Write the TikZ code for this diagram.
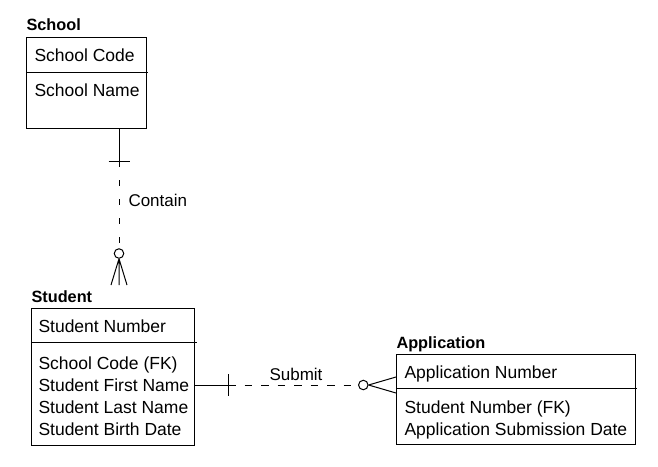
\documentclass[tikz,border=0pt]{standalone}
\usepackage{fontspec}
\setmainfont{Liberation Sans}
\begin{document}
\begin{tikzpicture}[x=1pt,y=-1pt,line width=1pt,
  entbox/.style={draw,rectangle,inner sep=0,anchor=north west},
  enttitle/.style={anchor=base west,inner sep=0,font=\fontsize{16.3}{18}\selectfont\bfseries},
  attr/.style={anchor=base west,inner sep=0,font=\fontsize{17.5}{22}\selectfont},
  rellabel/.style={anchor=base west,inner sep=0,font=\fontsize{17}{20}\selectfont},
  optional/.style={dash pattern=on 6pt off 13pt},
  zero/.style={draw,circle,inner sep=0,minimum size=9.5pt}]
  \useasboundingbox (0,0) rectangle (658,466);
  % School
  \node[enttitle] (schoolT) at (26,30) {School};
  \node[entbox,minimum width=120pt,minimum height=91pt] (school) at (26,37) {};
  \draw (26,72)--(148,72);
  \node[attr] (schoolK) at (34,61) {School Code};
  \node[attr] (schoolA) at (34,96.5) {School Name};
  % Student
  \node[enttitle] (studentT) at (31,302) {Student};
  \node[entbox,minimum width=163pt,minimum height=137pt] (student) at (31,308) {};
  \draw (31,342)--(197,342);
  \node[attr] (studentK) at (38,332) {Student Number};
  \node[attr] (studentA1) at (38,369) {School Code (FK)};
  \node[attr] (studentA2) at (38,391) {Student First Name};
  \node[attr] (studentA3) at (38,413) {Student Last Name};
  \node[attr] (studentA4) at (38,435) {Student Birth Date};
  % Application
  \node[enttitle] (appT) at (396,348) {Application};
  \node[entbox,minimum width=239pt,minimum height=90pt] (app) at (396,354) {};
  \draw (396,388)--(637,388);
  \node[attr] (appK) at (404,378) {Application Number};
  \node[attr] (appA1) at (404,413) {Student Number (FK)};
  \node[attr] (appA2) at (404,435) {Application Submission Date};
  % Contain: one school, zero or many students
  \coordinate (cBar) at (119,161);
  \node[zero] (cO) at (119,253.5) {};
  \coordinate (cFoot) at (119,285);
  \draw (school.south -| cBar)--(cBar);
  \draw ([xshift=-10.5pt]cBar)--([xshift=10.5pt]cBar);
  \draw[optional] (cBar)--(cO);
  \draw (cO.south)--(cFoot) (cO.south)--([xshift=-8pt]cFoot) (cO.south)--([xshift=8pt]cFoot);
  \node[rellabel] (contain) at (128,206.5) {Contain};
  % Submit: one student, zero or many applications
  \coordinate (sBar) at (228,385);
  \node[zero] (sO) at (363.3,385) {};
  \draw (student.east |- sBar)--(sBar);
  \draw ([yshift=11pt]sBar)--([yshift=-11pt]sBar);
  \draw[optional,dash pattern=on 7.5pt off 9pt] (sBar)--(sO);
  \draw (sO.east)--([yshift=8pt]app.west |- sBar) (sO.east)--([yshift=-8pt]app.west |- sBar);
  \node[rellabel,anchor=base] (submit) at (296,380.7) {Submit};
\end{tikzpicture}
\end{document}
